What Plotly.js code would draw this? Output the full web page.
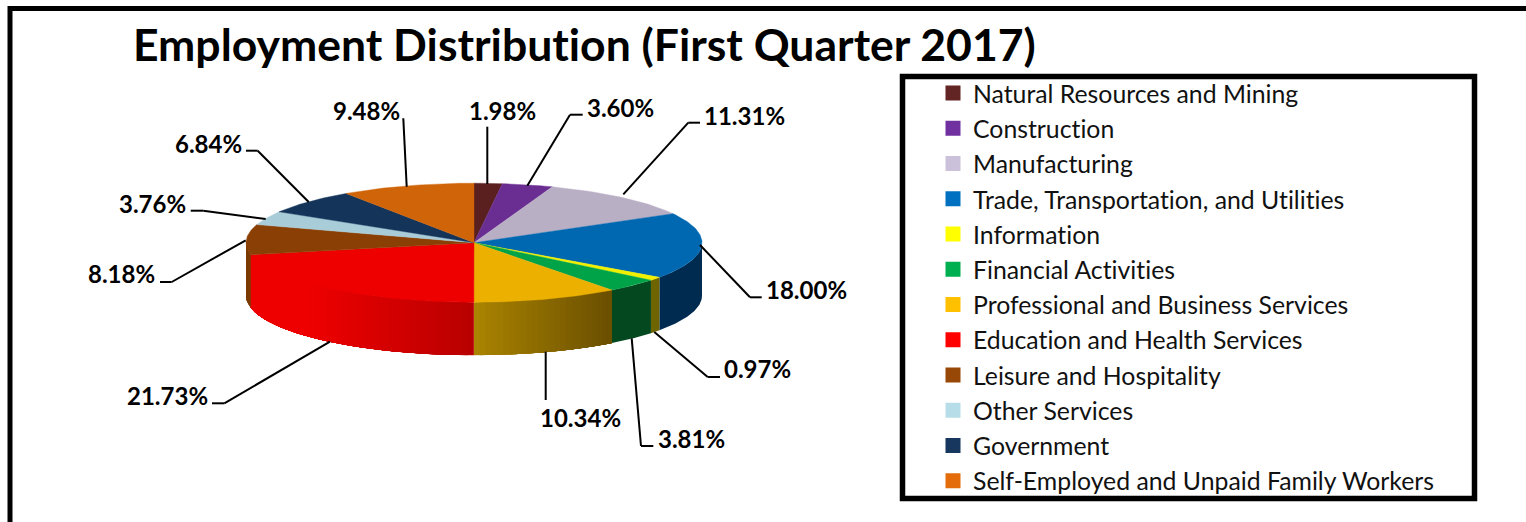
<!DOCTYPE html>
<html>
<head>
<meta charset="utf-8">
<script src="https://cdn.plot.ly/plotly-3.0.1.min.js"></script>
<style>html,body{margin:0;padding:0;background:#fff;overflow:hidden}
text{font-variant-ligatures:none;font-feature-settings:"liga" 0}</style>
</head>
<body>
<div id="chart" style="width:1526px;height:522px"></div>
<script>
const titleText = "Employment Distribution (First Quarter 2017)";
const categories = ["Natural Resources and Mining","Construction","Manufacturing","Trade, Transportation, and Utilities","Information","Financial Activities","Professional and Business Services","Education and Health Services","Leisure and Hospitality","Other Services","Government","Self-Employed and Unpaid Family Workers"];
const shares = [1.98,3.60,11.31,18.00,0.97,3.81,10.34,21.73,8.18,3.76,6.84,9.48];
const shareLabels = ["1.98%","3.60%","11.31%","18.00%","0.97%","3.81%","10.34%","21.73%","8.18%","3.76%","6.84%","9.48%"];
const legendColors = ["#632523","#7030a0","#ccc1da","#0070c0","#ffff00","#00b050","#ffc000","#ff0000","#974706","#b7dde8","#17375e","#e46c0a"];
const topColors = ["#5a2020","#6a2d91","#b9afc5","#0068b0","#f0f000","#00a347","#ecb000","#ee0000","#8a4004","#a8ccd8","#14345a","#d06408"];
const wallLight = ["#3a1414","#3f1a58","#6e6878","#002b50","#6e6400","#04481f","#ab8400","#b80000","#8a4004","#658088","#0c1f36","#7d3c05"];
const wallDark  = ["#3a1414","#3f1a58","#6e6878","#002b50","#6e6400","#04481f","#6a4f00","#ee0000","#7c3a04","#658088","#0c1f36","#7d3c05"];

// label anchor and leader polyline, in page pixels
const labelX = [502.5,620,744.5,806.5,757.5,691,580,167,121,152.5,208,366];
const labelY = [110.5,107.5,115,289,368,438,417.5,395.5,273,203.5,143,110];
const leaderX = [[487.3,487.3],[582.7,570,527.3],[700,688.3,623.3],[761.7,750,700],[720,707.7,654.3],[653.3,641,631.7],[545.7,545.7],[212,224.3,330],[160,171.7,245.7],[190.7,203.3,265.7],[246,257.7,308.7],[403.3,406.7]];
const leaderY = [[126.7,184],[114.7,114.7,185.7],[122.7,122.7,194.3],[297.3,297.3,245],[377,377,332],[446,446,338.3],[400,351.7],[403.3,403.3,341.7],[282,282,240.3],[210.7,210.7,219],[150.7,150.7,202],[118.3,186.7]];

const W = 1526, H = 522;
const cx = 474, cy = 242.7, rx = 228, tilt = 59.5 / 228, depth = 53 / 228;
const toX = p => (p - cx) / rx;
const toY = p => (cy - p) / rx;
const hex = c => [1, 3, 5].map(i => parseInt(c.substr(i, 2), 16));
const mix = (a, b, t) => { const A = hex(a), B = hex(b); return "rgb(" + A.map((v, i) => Math.round(v + (B[i] - v) * t)).join(",") + ")"; };
const total = shares.reduce((a, b) => a + b, 0);
const DEG = Math.PI / 180;
const ex = a => Math.sin(a);
const ey = a => Math.cos(a) * tilt;

const traces = [];
let start = 0;
const spans = shares.map(v => { const s = [start, start + v / total * 2 * Math.PI]; start = s[1]; return s; });

// side walls: only the front half of the disc is visible.
// Each band runs to the slice's far end and is overdrawn by the next one, so no seams show.
spans.forEach((s, i) => {
  const a0 = Math.max(s[0], 90 * DEG), a1 = Math.min(s[1], 270 * DEG);
  if (a1 <= a0) return;
  const shaded = wallLight[i] !== wallDark[i];
  const steps = shaded ? Math.ceil((a1 - a0) / (1.5 * DEG)) : 1;
  const forward = i !== 6; // gold wall shades away from the front centre too
  for (let k = 0; k < steps; k++) {
    const b0 = a0 + (a1 - a0) * k / steps, mid = a0 + (a1 - a0) * (k + 0.5) / steps;
    const from = forward ? b0 : a0, to = forward ? a1 : a1 - (a1 - a0) * k / steps;
    const xs = [], ys = [], n = 60;
    for (let j = 0; j <= n; j++) { const a = from + (to - from) * j / n; xs.push(ex(a)); ys.push(ey(a)); }
    for (let j = n; j >= 0; j--) { const a = from + (to - from) * j / n; xs.push(ex(a)); ys.push(ey(a) - depth); }
    xs.push(xs[0]); ys.push(ys[0]);
    let t = 0;
    if (shaded) {
      const am = forward ? mid : to - (a1 - a0) * 0.5 / steps;
      t = Math.min(1, Math.abs(ex(am)) / (i === 7 ? 0.72 : 0.6));
    }
    const col = shaded ? mix(wallLight[i], wallDark[i], t) : wallLight[i];
    traces.push({ type: "scatter", mode: "lines", x: xs, y: ys, fill: "toself", fillcolor: col, line: { color: col, width: 0 }, hoverinfo: "skip", showlegend: false });
  }
});

// top faces
spans.forEach((s, i) => {
  const xs = [0], ys = [0], n = Math.max(4, Math.ceil((s[1] - s[0]) / (1 * DEG)));
  for (let j = 0; j <= n; j++) { const a = s[0] + (s[1] - s[0]) * j / n; xs.push(ex(a)); ys.push(ey(a)); }
  xs.push(0); ys.push(0);
  traces.push({ type: "scatter", mode: "lines", x: xs, y: ys, fill: "toself", fillcolor: topColors[i], line: { color: topColors[i], width: 0.4 }, name: categories[i], text: shareLabels[i], hoverinfo: "name+text", showlegend: false });
});

// legend entries
categories.forEach((c, i) => {
  traces.push({ type: "scatter", mode: "markers", x: [null], y: [null], name: c, marker: { symbol: "square", size: 15, color: legendColors[i] }, showlegend: true, hoverinfo: "skip" });
});

const shapes = [
  { type: "line", xref: "paper", yref: "paper", x0: 10 / W, x1: 1, y0: 1 - 8.5 / H, y1: 1 - 8.5 / H, line: { color: "#000", width: 5 } },
  { type: "line", xref: "paper", yref: "paper", x0: 10 / W, x1: 10 / W, y0: 1 - 6 / H, y1: 0, line: { color: "#000", width: 5 } },
  { type: "rect", xref: "paper", yref: "paper", x0: 902.5 / W, x1: 1474.5 / W, y0: 1 - 76.5 / H, y1: 1 - 498.5 / H, line: { color: "#000", width: 5.5 }, layer: "below" }
];
leaderX.forEach((xs, i) => {
  for (let j = 0; j + 1 < xs.length; j++) {
    shapes.push({ type: "line", xref: "x", yref: "y", x0: toX(xs[j]), x1: toX(xs[j + 1]), y0: toY(leaderY[i][j]), y1: toY(leaderY[i][j + 1]), line: { color: "#000", width: 2 } });
  }
});

const annotations = shareLabels.map((t, i) => ({
  x: toX(labelX[i]), y: toY(labelY[i]), xref: "x", yref: "y", text: t, showarrow: false, xanchor: "center", yanchor: "middle",
  font: { family: "Lato, sans-serif", size: 24, weight: 700, color: "#000" }
}));

const layout = {
  width: W, height: H, margin: { l: 0, r: 0, t: 0, b: 0 }, paper_bgcolor: "#fff", plot_bgcolor: "#fff",
  title: { text: titleText, x: 133 / W, xanchor: "left", xref: "paper", y: 1 - 45 / H, yanchor: "middle", yref: "paper", font: { family: "Lato, sans-serif", size: 44.5, weight: 700, color: "#000" } },
  xaxis: { range: [toX(0), toX(W)], visible: false, fixedrange: true },
  yaxis: { range: [toY(H), toY(0)], visible: false, fixedrange: true },
  showlegend: true,
  legend: { x: 933 / W, y: 1 - 70.5 / H, xanchor: "left", yanchor: "top", traceorder: "normal", bgcolor: "rgba(0,0,0,0)", font: { family: "Lato, sans-serif", size: 24.8, color: "#111" }, itemclick: false, itemdoubleclick: false },
  shapes, annotations, hovermode: "closest"
};
Plotly.newPlot("chart", traces, layout, { displayModeBar: false });
</script>
</body>
</html>
